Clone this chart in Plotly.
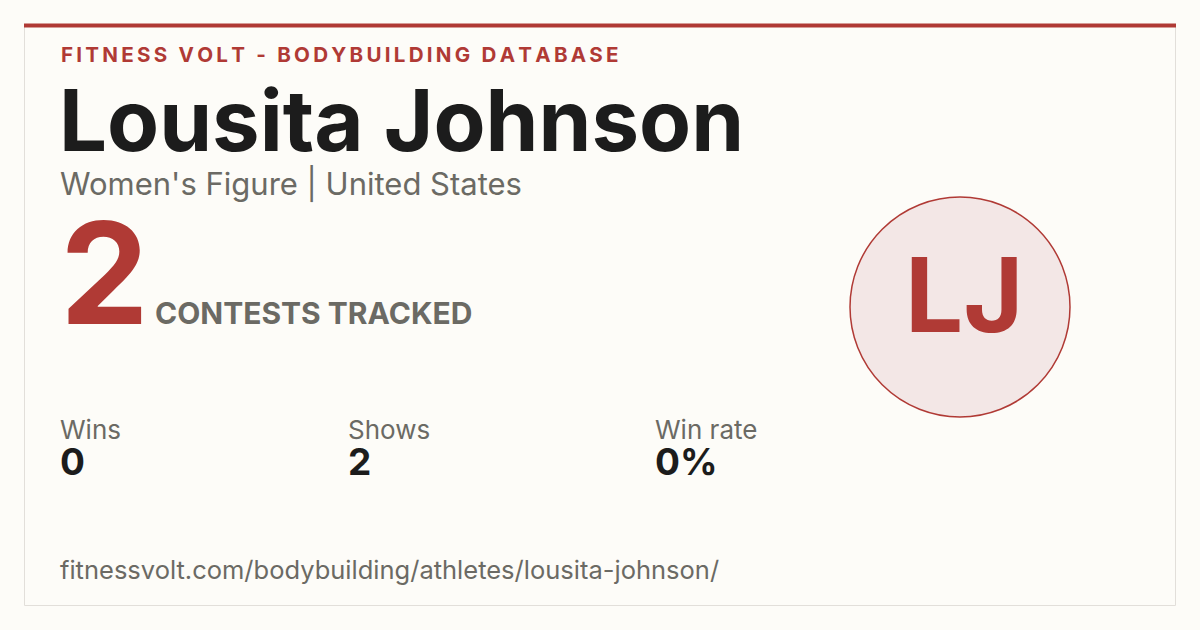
import plotly.graph_objects as go

# Dados do cartão
site = "FITNESS VOLT - BODYBUILDING DATABASE"
atleta = "Lousita Johnson"
iniciais = "LJ"
subtitulo = "Women's Figure | United States"
total_contests = 2
rotulo_total = "CONTESTS TRACKED"
stat_labels = ["Wins", "Shows", "Win rate"]
stat_values = ["0", "2", "0%"]
url = "fitnessvolt.com/bodybuilding/athletes/lousita-johnson/"

vermelho = "#b03a35"
cinza = "#6b6a64"
preto = "#1c1c1c"
fonte = "Inter"

fig = go.Figure()

# Moldura do cartão
fig.add_shape(type="rect", x0=24.5, x1=1175.5, y0=25, y1=605.5,
              line=dict(color="#e2dfda", width=1), fillcolor="#fdfcf8", layer="below")
fig.add_shape(type="line", x0=24, x1=1176, y0=25.5, y1=25.5,
              line=dict(color=vermelho, width=4))

# Círculo com as iniciais
fig.add_shape(type="circle", x0=850, x1=1070, y0=197, y1=417,
              line=dict(color=vermelho, width=1.5), fillcolor="#f3e7e6")

def texto(x, y, t, size, color, bold=False, anchor="left"):
    fig.add_annotation(x=x, y=y, text=f"<b>{t}</b>" if bold else t,
                       showarrow=False, xanchor=anchor, yanchor="middle",
                       font=dict(family=fonte, size=size, color=color))

# espaçamento entre letras com thin space
texto(59, 54, "\u2009".join(site), 20.6, vermelho, bold=True)
texto(57, 120, atleta, 85, preto, bold=True)
texto(58, 184, subtitulo, 31, cinza)
texto(58, 272, str(total_contests), 141, vermelho, bold=True)
texto(153, 313, rotulo_total, 30, cinza, bold=True)
texto(964, 294, iniciais, 103, vermelho, bold=True, anchor="center")

stat_x = [58, 346, 653]
for x, lab, val in zip(stat_x, stat_labels, stat_values):
    texto(x, 429, lab, 26, cinza)
    texto(x, 461, val, 37, preto, bold=True)

texto(58, 569, url, 25.5, cinza)

fig.update_layout(
    width=1200, height=630,
    margin=dict(l=0, r=0, t=0, b=0),
    paper_bgcolor="#fdfcf8",
    plot_bgcolor="#fdfcf8",
    showlegend=False,
    xaxis=dict(range=[0, 1200], visible=False, fixedrange=True),
    yaxis=dict(range=[630, 0], visible=False, fixedrange=True),
)

fig.write_html("out.html", config={"displayModeBar": False},
               post_script="document.body.style.margin='0';"
                           "document.body.style.background='#fdfcf8';")
